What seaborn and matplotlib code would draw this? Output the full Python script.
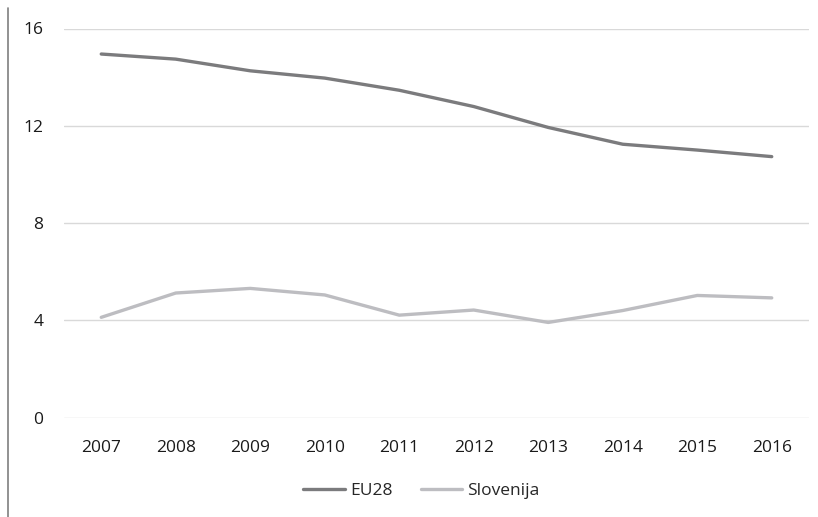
import pandas as pd
import matplotlib.pyplot as plt
import seaborn as sns
from matplotlib.lines import Line2D

years = [2007, 2008, 2009, 2010, 2011, 2012, 2013, 2014, 2015, 2016]
eu28 = [14.95, 14.74, 14.26, 13.96, 13.46, 12.79, 11.93, 11.24, 11.0, 10.73]
slovenija = [4.12, 5.12, 5.31, 5.04, 4.21, 4.42, 3.91, 4.40, 5.02, 4.92]
series_names = ['EU28', 'Slovenija']
y_ticks = [0, 4, 8, 12, 16]

df = pd.DataFrame({
    'year': [str(y) for y in years] * 2,
    'value': eu28 + slovenija,
    'series': [series_names[0]] * len(years) + [series_names[1]] * len(years),
})

sns.set_style('white')
plt.rcParams['font.family'] = ['Open Sans', 'DejaVu Sans']

fig = plt.figure(figsize=(8.18, 5.17), dpi=100)
ax = fig.add_axes([64 / 818, 99.5 / 517, 745 / 818, 389 / 517])

sns.lineplot(data=df, x='year', y='value', hue='series', sort=False,
             palette=['#7b7b7d', '#bdbdc1'], linewidth=2.4, ax=ax)

ax.set_xlim(-0.5, 9.5)
ax.set_ylim(0, 16)
ax.set_yticks(y_ticks)
ax.grid(axis='y', color='#d9d9d9', linewidth=1)
ax.set_axisbelow(True)
for s in ax.spines.values():
    s.set_visible(False)
ax.set_xlabel('')
ax.set_ylabel('')
ax.tick_params(axis='y', length=0, pad=15, labelsize=12.5, labelcolor='#1a1a1a')
ax.tick_params(axis='x', length=0, pad=16, labelsize=12.5, labelcolor='#1a1a1a')

ax.legend(loc='center', bbox_to_anchor=(0.48, -0.19), ncol=2, frameon=False,
          fontsize=12.5, handlelength=2.4, handletextpad=0.3, columnspacing=1.6)

# thin vertical rule at the left edge of the figure
fig.add_artist(Line2D([8 / 818, 8 / 818], [0, 1 - 8 / 517], color='#7f7f7f', linewidth=1.2))

fig.savefig('out.png', dpi=100)
